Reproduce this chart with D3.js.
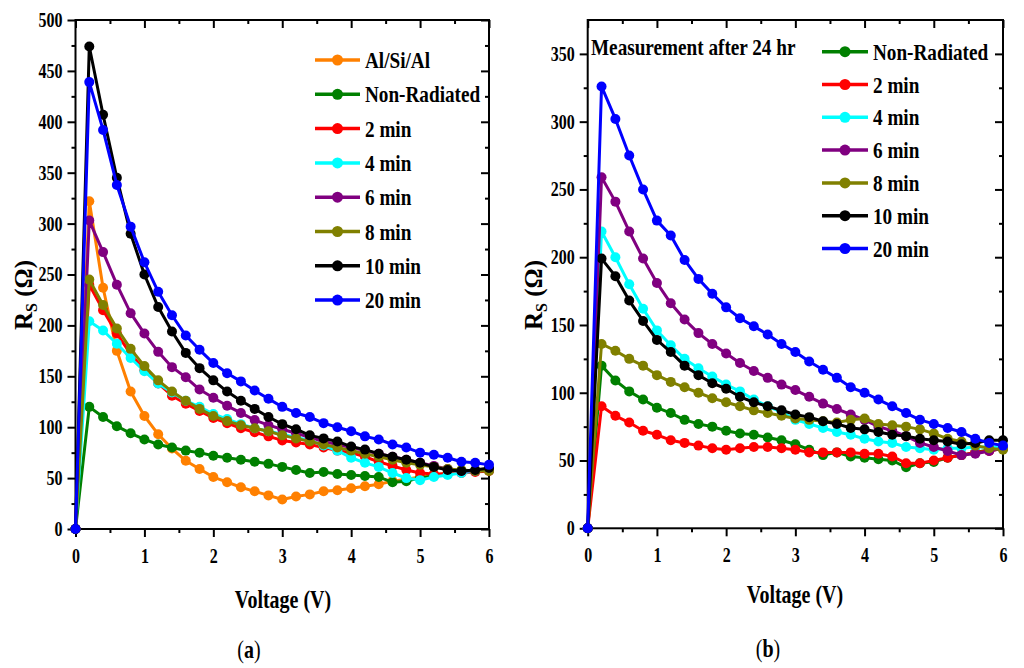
<!DOCTYPE html>
<html>
<head>
<meta charset="utf-8">
<script src="https://cdn.jsdelivr.net/npm/d3@7"></script>
<style>
  body { margin: 0; background: #fff; }
  svg text { font-family: "Liberation Serif", "Times New Roman", serif; font-weight: bold; fill: #000; }
</style>
</head>
<body>
<svg id="chart" width="1024" height="668"></svg>
<script>
// Voltage steps shared by both panels (V)
const voltage = [0, 0.2, 0.4, 0.6, 0.8, 1.0, 1.2, 1.4, 1.6, 1.8, 2.0, 2.2, 2.4, 2.6, 2.8, 3.0,
  3.2, 3.4, 3.6, 3.8, 4.0, 4.2, 4.4, 4.6, 4.8, 5.0, 5.2, 5.4, 5.6, 5.8, 6.0];
const xTickLabels = [0, 1, 2, 3, 4, 5, 6];

// Panel (a): series resistance Rs (ohm)
const alSiAlA = [0, 322, 237, 175, 135, 111, 93, 79, 67, 59, 51, 46, 41, 37, 33, 29, 32, 34, 37, 38, 40, 42, 44, 47, 49, 51, 53, 55, 56, 57, 58];
const nonRadA = [0, 120, 110, 101, 94, 88, 83, 80, 77, 75, 72, 70, 68, 66, 64, 61, 58, 55, 56, 54, 53, 52, 51, 46, 47, 50, 52, 54, 56, 57, 58];
const min2A = [0, 240, 215, 192, 172, 156, 143, 131, 123, 116, 109, 104, 99, 95, 91, 87, 85, 83, 80, 77, 75, 71, 66, 62, 58, 55, 54, 54, 55, 56, 57];
const min4A = [0, 204, 195, 182, 168, 155, 143, 134, 126, 120, 113, 108, 103, 99, 96, 93, 90, 87, 82, 77, 70, 65, 61, 55, 50, 48, 51, 53, 55, 57, 58];
const min6A = [0, 303, 272, 240, 212, 192, 174, 159, 149, 137, 129, 121, 114, 107, 102, 98, 94, 90, 86, 83, 80, 77, 74, 71, 68, 65, 62, 59, 57, 57, 58];
const min8A = [0, 245, 220, 197, 177, 160, 146, 135, 126, 118, 111, 106, 102, 99, 96, 92, 89, 86, 83, 80, 77, 74, 71, 68, 65, 63, 61, 59, 58, 57, 57];
const min10A = [0, 474, 407, 345, 290, 250, 218, 194, 173, 158, 146, 135, 126, 118, 110, 103, 98, 92, 89, 86, 81, 78, 74, 71, 68, 65, 61, 58, 57, 58, 60];
const min20A = [0, 439, 392, 338, 297, 262, 233, 210, 190, 176, 163, 153, 145, 136, 128, 120, 114, 110, 104, 100, 96, 91, 88, 83, 80, 75, 73, 70, 66, 65, 63];

// Panel (b): measurement after 24 hr
const nonRadB = [0, 120, 109, 101, 95, 89, 85, 80, 77, 75, 72, 70, 69, 67, 65, 62, 58, 54, 56, 53, 52, 51, 50, 45, 48, 49, 52, 54, 56, 58, 59];
const min2B = [0, 90, 83, 78, 72, 69, 65, 63, 61, 59, 58, 59, 60, 60, 59, 58, 56, 56, 56, 56, 55, 55, 53, 48, 48, 50, 52, 54, 56, 57, 59];
const min4B = [0, 219, 200, 180, 162, 146, 135, 125, 118, 112, 106, 101, 95, 90, 86, 80, 77, 74, 71, 69, 66, 64, 63, 60, 59, 58, 59, 59, 60, 60, 60];
const min6B = [0, 259, 241, 219, 199, 181, 166, 154, 144, 136, 129, 122, 116, 111, 106, 102, 97, 92, 88, 84, 80, 75, 72, 68, 63, 60, 57, 54, 55, 57, 59];
const min8B = [0, 136, 131, 125, 120, 113, 108, 104, 100, 96, 93, 90, 87, 85, 83, 81, 80, 79, 78, 80, 81, 77, 76, 75, 73, 70, 66, 64, 61, 59, 58];
const min10B = [0, 199, 186, 168, 153, 139, 130, 120, 113, 107, 103, 97, 93, 90, 87, 84, 82, 79, 77, 74, 73, 71, 69, 68, 66, 65, 64, 62, 63, 65, 65];
const min20B = [0, 326, 302, 275, 250, 227, 216, 198, 184, 173, 163, 155, 149, 143, 136, 130, 123, 117, 111, 104, 100, 95, 90, 85, 80, 77, 74, 71, 66, 63, 61];

const yTickLabelsA = [0, 50, 100, 150, 200, 250, 300, 350, 400, 450, 500];
const yTickLabelsB = [0, 50, 100, 150, 200, 250, 300, 350];

const COLORS = {
  orange: "#ff8000", green: "#008000", red: "#ff0000", cyan: "#00ffff",
  purple: "#800080", olive: "#808000", black: "#000000", blue: "#0000ff"
};

const SQUEEZE = 0.8; // the original figure is narrow-looking Times bold

const svg = d3.select("#chart");

function placeText(sel, x, y) {
  sel.attr("x", 0).attr("y", 0)
    .attr("transform", `translate(${x},${y}) scale(${SQUEEZE},1)`);
}

function drawPanel(p) {
  const g = svg.append("g");
  const x = d3.scaleLinear().domain([0, 6]).range([p.left, p.right]);
  const y = d3.scaleLinear().domain([0, p.yMax]).range([p.bottom, p.top]);

  const xMinor = d3.range(0.5, 6, 1);
  const yMinor = d3.range(25, p.yMax, 50);

  // tick helper: major + minor on one side
  function ticks(makeAxis, scale, transform, major, minor, size, labels, pad) {
    [[major, size, labels], [minor, size / 2, false]].forEach(([vals, len, lab]) => {
      const a = g.append("g").attr("transform", transform)
        .call(makeAxis(scale).tickValues(vals).tickSizeInner(len).tickSizeOuter(0)
          .tickPadding(pad).tickFormat(lab ? d3.format("d") : ""));
      a.select(".domain").remove();
      a.selectAll("line").attr("stroke", "#000").attr("stroke-width", 2);
      a.selectAll("text").style("font-size", "20px");
    });
  }

  ticks(d3.axisBottom, x, `translate(0,${p.bottom})`, xTickLabels, xMinor, 8, true, 12);
  ticks(d3.axisTop, x, `translate(0,${p.top})`, xTickLabels, xMinor, -8, false, 0);
  ticks(d3.axisLeft, y, `translate(${p.left},0)`, p.yTicks, yMinor, 8, true, 5);
  ticks(d3.axisRight, y, `translate(${p.right},0)`, p.yTicks, yMinor, -8, false, 0);

  // squeeze tick labels horizontally around their anchor
  g.selectAll(".tick text").each(function () {
    const t = d3.select(this);
    const tx = +t.attr("x") || 0;
    t.attr("x", 0).attr("transform", `translate(${tx},0) scale(${SQUEEZE},1)`);
  });

  // frame
  g.append("rect")
    .attr("x", p.left).attr("y", p.top)
    .attr("width", p.right - p.left).attr("height", p.bottom - p.top)
    .attr("fill", "none").attr("stroke", "#000").attr("stroke-width", 2);

  // series
  const line = d3.line().x((d, i) => x(voltage[i])).y(d => y(d));
  p.series.forEach(s => {
    const sg = g.append("g");
    sg.append("path").datum(s.values)
      .attr("d", line).attr("fill", "none")
      .attr("stroke", s.color).attr("stroke-width", 3).attr("stroke-linejoin", "round");
    sg.selectAll("circle").data(s.values).join("circle")
      .attr("cx", (d, i) => x(voltage[i])).attr("cy", d => y(d))
      .attr("r", 5).attr("fill", s.color);
  });

  // legend
  p.series.forEach((s, i) => {
    const ly = p.legend.y + i * p.legend.step;
    g.append("line")
      .attr("x1", p.legend.x1).attr("x2", p.legend.x2).attr("y1", ly).attr("y2", ly)
      .attr("stroke", s.color).attr("stroke-width", 3.5);
    g.append("circle")
      .attr("cx", (p.legend.x1 + p.legend.x2) / 2).attr("cy", ly)
      .attr("r", 5.5).attr("fill", s.color);
    g.append("text").text(s.name).style("font-size", "24px")
      .call(placeText, p.legend.x2 + 5, ly + 8);
  });

  // axis titles
  g.append("text").text("Voltage (V)").style("font-size", "25px")
    .attr("text-anchor", "middle")
    .call(placeText, p.xTitle[0], p.xTitle[1]);

  const yt = g.append("text").attr("text-anchor", "middle")
    .attr("transform", `translate(${p.yTitle[0]},${p.yTitle[1]}) rotate(-90)`)
    .style("font-size", "25px");
  yt.append("tspan").text("R");
  yt.append("tspan").text("S").style("font-size", "16px").attr("dy", 5);
  yt.append("tspan").text(" (Ω)").attr("dy", -5);

  // panel letter
  const pl = g.append("text").attr("text-anchor", "middle").style("font-size", "25px");
  pl.append("tspan").text("(").style("font-weight", "normal");
  pl.append("tspan").text(p.letter);
  pl.append("tspan").text(")").style("font-weight", "normal");
  pl.call(placeText, p.letterPos[0], p.letterPos[1]);

  if (p.note) {
    g.append("text").text(p.note).style("font-size", "24px")
      .call(placeText, p.notePos[0], p.notePos[1]);
  }
}

drawPanel({
  left: 75.5, right: 489, top: 20, bottom: 529, yMax: 500,
  yTicks: yTickLabelsA,
  series: [
    { name: "Al/Si/Al", values: alSiAlA, color: COLORS.orange },
    { name: "Non-Radiated", values: nonRadA, color: COLORS.green },
    { name: "2 min", values: min2A, color: COLORS.red },
    { name: "4 min", values: min4A, color: COLORS.cyan },
    { name: "6 min", values: min6A, color: COLORS.purple },
    { name: "8 min", values: min8A, color: COLORS.olive },
    { name: "10 min", values: min10A, color: COLORS.black },
    { name: "20 min", values: min20A, color: COLORS.blue }
  ],
  legend: { x1: 315, x2: 360, y: 60, step: 34.3 },
  xTitle: [283, 608],
  yTitle: [32, 295],
  letter: "a", letterPos: [249, 658]
});

drawPanel({
  left: 587.7, right: 1003, top: 20, bottom: 528.3, yMax: 375,
  yTicks: yTickLabelsB,
  series: [
    { name: "Non-Radiated", values: nonRadB, color: COLORS.green },
    { name: "2 min", values: min2B, color: COLORS.red },
    { name: "4 min", values: min4B, color: COLORS.cyan },
    { name: "6 min", values: min6B, color: COLORS.purple },
    { name: "8 min", values: min8B, color: COLORS.olive },
    { name: "10 min", values: min10B, color: COLORS.black },
    { name: "20 min", values: min20B, color: COLORS.blue }
  ],
  legend: { x1: 822, x2: 868, y: 51.7, step: 32.8 },
  xTitle: [795, 603],
  yTitle: [542, 295],
  letter: "b", letterPos: [768, 657],
  note: "Measurement after 24 hr", notePos: [591, 55]
});
</script>
</body>
</html>
